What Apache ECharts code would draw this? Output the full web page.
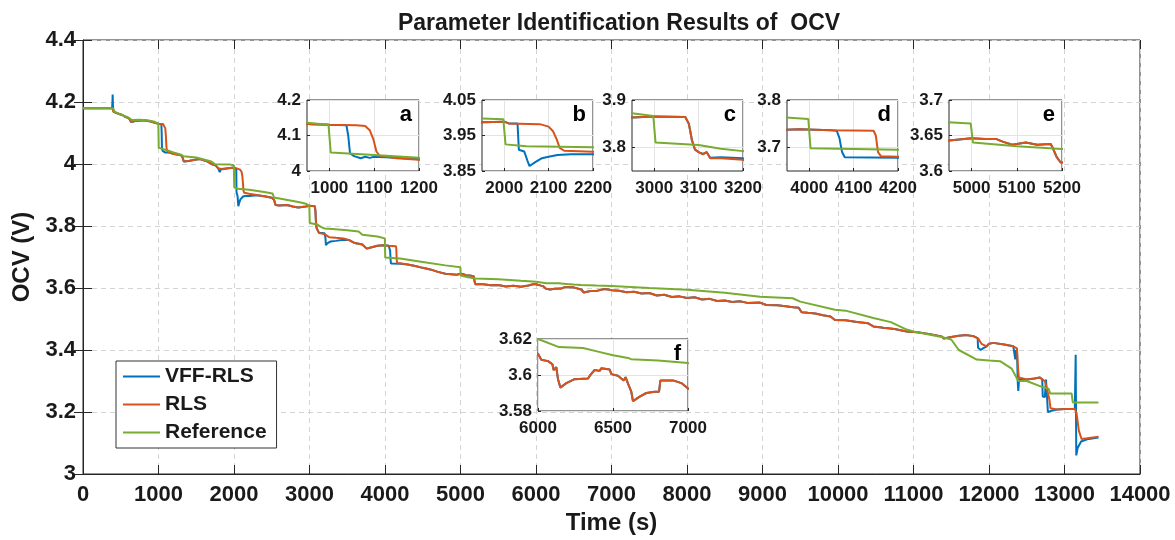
<!DOCTYPE html>
<html>
<head>
<meta charset="utf-8">
<title>Parameter Identification Results of OCV</title>
<script src="https://cdn.jsdelivr.net/npm/echarts@6/dist/echarts.min.js"></script>
<style>
  html, body { margin: 0; padding: 0; background: #fff; }
  #chart { width: 1175px; height: 540px; }
</style>
</head>
<body>
<div id="chart"></div>
<script>
// time (s) / OCV (V) pairs
var vffRls = [
  [0,4.18],[385,4.18],[390,4.2],[393,4.224],[397,4.185],[405,4.168],[470,4.162],[520,4.158],[560,4.152],
  [610,4.147],[640,4.135],[700,4.139],[800,4.141],[900,4.137],[960,4.132],[1000,4.13],[1038,4.129],
  [1042,4.1],[1046,4.05],[1055,4.042],[1070,4.036],[1080,4.04],[1090,4.037],[1100,4.04],[1150,4.037],
  [1200,4.033],[1300,4.028],[1320,4.02],[1335,4.008],[1400,4.01],[1480,4.014],[1550,4.016],[1650,4.008],
  [1720,3.998],[1760,3.995],[1790,3.986],[1805,3.986],[1812,3.974],[1830,3.984],[1850,3.983],[1950,3.987],
  [2000,3.989],[2010,3.984],[2030,3.984],[2033,3.91],[2045,3.905],[2048,3.895],[2052,3.88],[2057,3.864],
  [2070,3.875],[2085,3.886],[2100,3.89],[2120,3.895],[2150,3.897],[2200,3.897],[2300,3.899],[2420,3.895],
  [2500,3.891],[2530,3.885],[2550,3.868],[2600,3.866],[2700,3.868],[2780,3.863],[2850,3.86],[2950,3.863],
  [3000,3.865],[3070,3.864],[3078,3.85],[3085,3.815],[3092,3.795],[3100,3.79],[3110,3.786],[3118,3.79],
  [3126,3.778],[3150,3.779],[3200,3.777],[3212,3.76],[3217,3.738],[3240,3.745],[3280,3.75],[3350,3.752],
  [3450,3.756],[3520,3.755],[3600,3.745],[3700,3.74],[3757,3.727],[3800,3.73],[3900,3.736],[3977,3.738],
  [4050,3.736],[4062,3.735],[4068,3.72],[4074,3.69],[4080,3.679],[4200,3.678],[4300,3.676],[4400,3.671],
  [4500,3.665],[4600,3.66],[4700,3.652],[4800,3.646],[4950,3.643],[5000,3.646],[5030,3.645],[5055,3.645],
  [5070,3.641],[5090,3.637],[5120,3.64],[5145,3.637],[5175,3.638],[5180,3.632],[5188,3.62],[5197,3.612],
  [5200,3.611],[5300,3.612],[5400,3.609],[5500,3.61],[5600,3.605],[5700,3.607],[5800,3.604],[5900,3.608],
  [5960,3.612],[6000,3.6118],[6022,3.6085],[6067,3.6077],[6096,3.606],[6104,3.6028],[6122,3.6043],
  [6133,3.5978],[6149,3.593],[6189,3.5955],[6244,3.5977],[6333,3.598],[6349,3.6],[6378,3.6028],
  [6411,3.6023],[6422,3.6037],[6478,3.603],[6489,3.6005],[6533,3.5996],[6571,3.597],[6584,3.5988],
  [6600,3.5952],[6622,3.5907],[6633,3.5855],[6678,3.588],[6722,3.59],[6778,3.5907],[6807,3.5907],
  [6816,3.597],[6900,3.597],[6956,3.5955],[6978,3.594],[7000,3.5925],[7100,3.591],[7200,3.586],
  [7300,3.588],[7400,3.582],[7500,3.584],[7600,3.576],[7700,3.578],[7800,3.571],[7900,3.573],[8000,3.568],
  [8100,3.57],[8200,3.563],[8300,3.565],[8400,3.558],[8500,3.56],[8600,3.555],[8700,3.557],[8800,3.552],
  [8967,3.553],[9050,3.545],[9200,3.544],[9408,3.538],[9480,3.536],[9518,3.522],[9600,3.52],[9700,3.518],
  [9800,3.512],[9900,3.508],[9960,3.497],[10100,3.496],[10250,3.49],[10400,3.486],[10468,3.476],
  [10600,3.472],[10750,3.468],[10909,3.46],[11050,3.457],[11200,3.452],[11372,3.444],[11400,3.437],
  [11500,3.442],[11600,3.446],[11704,3.448],[11800,3.444],[11850,3.438],[11855,3.407],[11870,3.41],
  [11890,3.4],[11920,3.405],[11969,3.412],[12000,3.42],[12057,3.423],[12200,3.418],[12322,3.412],
  [12340,3.408],[12348,3.37],[12356,3.4],[12372,3.39],[12380,3.3],[12388,3.268],[12398,3.305],
  [12420,3.311],[12500,3.305],[12600,3.308],[12675,3.311],[12705,3.305],[12712,3.25],[12740,3.248],
  [12755,3.305],[12765,3.305],[12780,3.2],[12790,3.194],[12830,3.204],[12900,3.208],[13000,3.21],
  [13137,3.21],[13148,3.385],[13152,3.385],[13156,3.06],[13175,3.085],[13220,3.105],[13300,3.112],
  [13450,3.118]
];

var rls = [
  [0,4.18],[390,4.18],[405,4.168],[470,4.162],[520,4.158],[560,4.152],[610,4.147],[640,4.135],[700,4.139],
  [800,4.141],[900,4.137],[960,4.132],[1000,4.13],[1060,4.129],[1080,4.127],[1090,4.115],[1098,4.09],
  [1105,4.055],[1112,4.043],[1150,4.036],[1200,4.032],[1300,4.028],[1320,4.02],[1335,4.008],[1400,4.01],
  [1480,4.014],[1550,4.016],[1650,4.008],[1720,3.998],[1760,3.995],[1790,3.986],[1850,3.983],[1950,3.987],
  [2000,3.989],[2010,3.984],[2080,3.982],[2100,3.975],[2110,3.962],[2118,3.94],[2125,3.915],[2135,3.907],
  [2200,3.904],[2300,3.9],[2420,3.895],[2500,3.891],[2530,3.885],[2550,3.868],[2600,3.866],[2700,3.868],
  [2780,3.863],[2850,3.86],[2950,3.863],[3000,3.865],[3070,3.864],[3078,3.85],[3085,3.815],[3092,3.795],
  [3100,3.79],[3110,3.785],[3118,3.79],[3126,3.777],[3150,3.777],[3200,3.774],[3260,3.764],[3350,3.762],
  [3450,3.76],[3520,3.755],[3600,3.745],[3700,3.74],[3757,3.727],[3800,3.73],[3900,3.736],[3977,3.738],
  [4050,3.736],[4145,3.735],[4150,3.725],[4155,3.69],[4162,3.681],[4200,3.68],[4300,3.676],[4400,3.671],
  [4500,3.665],[4600,3.66],[4700,3.652],[4800,3.646],[4950,3.643],[5000,3.646],[5030,3.645],[5055,3.645],
  [5070,3.641],[5090,3.637],[5120,3.64],[5145,3.637],[5175,3.638],[5180,3.632],[5188,3.62],[5197,3.612],
  [5200,3.611],[5300,3.612],[5400,3.609],[5500,3.61],[5600,3.605],[5700,3.607],[5800,3.604],[5900,3.608],
  [5960,3.612],[6000,3.6118],[6022,3.6085],[6067,3.6077],[6096,3.606],[6104,3.6028],[6122,3.6043],
  [6133,3.5978],[6149,3.593],[6189,3.5955],[6244,3.5977],[6333,3.598],[6349,3.6],[6378,3.6028],
  [6411,3.6023],[6422,3.6037],[6478,3.603],[6489,3.6005],[6533,3.5996],[6571,3.597],[6584,3.5988],
  [6600,3.5952],[6622,3.5907],[6633,3.5855],[6678,3.588],[6722,3.59],[6778,3.5907],[6807,3.5907],
  [6816,3.597],[6900,3.597],[6956,3.5955],[6978,3.594],[7000,3.5925],[7100,3.591],[7200,3.586],
  [7300,3.588],[7400,3.582],[7500,3.584],[7600,3.576],[7700,3.578],[7800,3.571],[7900,3.573],[8000,3.568],
  [8100,3.57],[8200,3.563],[8300,3.565],[8400,3.558],[8500,3.56],[8600,3.555],[8700,3.557],[8800,3.552],
  [8967,3.553],[9050,3.545],[9200,3.544],[9408,3.538],[9480,3.536],[9518,3.522],[9600,3.52],[9700,3.518],
  [9800,3.512],[9900,3.508],[9960,3.497],[10100,3.496],[10250,3.49],[10400,3.486],[10468,3.476],
  [10600,3.472],[10750,3.468],[10909,3.46],[11050,3.457],[11200,3.452],[11372,3.444],[11400,3.437],
  [11500,3.442],[11600,3.446],[11704,3.448],[11800,3.444],[11858,3.437],[11900,3.42],[11969,3.412],
  [12000,3.42],[12057,3.423],[12200,3.418],[12322,3.412],[12370,3.405],[12385,3.34],[12395,3.311],
  [12500,3.305],[12600,3.308],[12675,3.311],[12740,3.3],[12763,3.279],[12800,3.24],[12815,3.212],
  [12900,3.208],[13000,3.21],[13137,3.21],[13160,3.195],[13190,3.14],[13226,3.113],[13300,3.115],
  [13450,3.12]
];

var reference = [
  [0,4.18],[395,4.18],[420,4.168],[500,4.16],[600,4.15],[650,4.142],[750,4.143],[850,4.141],[950,4.136],
  [998,4.13],[1003,4.052],[1100,4.045],[1200,4.037],[1300,4.03],[1330,4.025],[1500,4.021],[1700,4.008],
  [1750,3.999],[1950,3.998],[1998,3.996],[2003,3.925],[2050,3.92],[2200,3.917],[2400,3.91],[2510,3.905],
  [2530,3.892],[2800,3.88],[2900,3.875],[2950,3.872],[2998,3.866],[3003,3.81],[3100,3.805],[3150,3.797],
  [3200,3.792],[3300,3.79],[3500,3.786],[3650,3.782],[3700,3.772],[3900,3.766],[3998,3.76],[4003,3.698],
  [4200,3.695],[4500,3.684],[4800,3.673],[4998,3.667],[5003,3.64],[5100,3.635],[5200,3.631],[5500,3.628],
  [5800,3.623],[6000,3.62],[6140,3.6155],[6300,3.615],[6400,3.613],[6500,3.611],[6600,3.6095],
  [6620,3.6088],[6800,3.608],[7000,3.6066],[7500,3.6],[8000,3.594],[8500,3.585],[8967,3.572],[9400,3.567],
  [9500,3.556],[9960,3.53],[10100,3.527],[10468,3.503],[10700,3.49],[10909,3.466],[11000,3.46],
  [11372,3.442],[11500,3.434],[11600,3.4],[11837,3.369],[12000,3.366],[12146,3.364],[12300,3.34],
  [12388,3.3],[12500,3.3],[12700,3.281],[12790,3.275],[12810,3.26],[13094,3.26],[13110,3.231],[13450,3.231]
];

// zoomed windows a-f: axis ranges and tick labels
var insetNames = ['a', 'b', 'c', 'd', 'e', 'f'];
var insetXRange = [[950, 1200], [1950, 2200], [2950, 3200], [3950, 4200], [4950, 5200], [6000, 7000]];
var insetYRange = [[4, 4.2], [3.85, 4.05], [3.75, 3.9], [3.65, 3.8], [3.6, 3.7], [3.58, 3.62]];
var insetXTicks = [[1000, 1100, 1200], [2000, 2100, 2200], [3000, 3100, 3200], [4000, 4100, 4200], [5000, 5100, 5200], [6000, 6500, 7000]];
var insetYTicks = [[4, 4.1, 4.2], [3.85, 3.95, 4.05], [3.8, 3.9], [3.7, 3.8], [3.6, 3.65, 3.7], [3.58, 3.6, 3.62]];

// pixel boxes of the insets [left, top, width, height]
var insetBox = [
  [307, 100, 112, 71],
  [482, 100, 111, 71],
  [632, 100, 111, 71],
  [787, 100, 111, 71],
  [949, 100, 113, 71],
  [538, 339, 150, 72]
];

var FONT = '"Liberation Sans", Arial, Helvetica, sans-serif';
var INK = '#1a1a1a';
var COLORS = ['#0072BD', '#D95319', '#77AC30'];
var NAMES = ['VFF-RLS', 'RLS', 'Reference'];
var SERIES_DATA = [vffRls, rls, reference];

var chart = echarts.init(document.getElementById('chart'), null, { renderer: 'canvas' });

var grids = [{ left: 83, right: 35, top: 40, bottom: 63, show: true, borderColor: '#262626', borderWidth: 1, backgroundColor: '#fff' }];
var xAxes = [];
var yAxes = [];
var series = [];
var graphics = [];

function plainNum(v) {
  return String(+v.toFixed(4));
}

// main axes
xAxes.push({
  type: 'value', gridIndex: 0, min: 0, max: 14000, interval: 1000,
  name: 'Time (s)', nameLocation: 'middle', nameGap: 37,
  nameTextStyle: { fontFamily: FONT, fontWeight: 'bold', fontSize: 24, color: INK },
  axisLine: { show: true, onZero: false, lineStyle: { color: '#262626', width: 1 } },
  axisTick: { show: true, inside: true, length: 9, lineStyle: { color: '#262626' } },
  axisLabel: { fontFamily: FONT, fontWeight: 'bold', fontSize: 22, color: INK, margin: 10, formatter: plainNum },
  splitLine: { show: true, lineStyle: { color: '#d4d4d4', type: [5, 4], width: 1 } }
});
xAxes.push({
  type: 'value', gridIndex: 0, position: 'top', min: 0, max: 14000, interval: 1000,
  axisLine: { show: false }, axisLabel: { show: false }, splitLine: { show: false },
  axisTick: { show: true, inside: true, length: 9, lineStyle: { color: '#262626' } }
});
yAxes.push({
  type: 'value', gridIndex: 0, min: 3, max: 4.4, interval: 0.2,
  name: 'OCV (V)', nameLocation: 'middle', nameGap: 48, nameRotate: 90,
  nameTextStyle: { fontFamily: FONT, fontWeight: 'bold', fontSize: 24, color: INK },
  axisLine: { show: true, onZero: false, lineStyle: { color: '#262626', width: 1 } },
  axisTick: { show: true, inside: true, length: 9, lineStyle: { color: '#262626' } },
  axisLabel: { fontFamily: FONT, fontWeight: 'bold', fontSize: 22, color: INK, margin: 7, formatter: plainNum },
  splitLine: { show: true, lineStyle: { color: '#d4d4d4', type: [5, 4], width: 1 } }
});
yAxes.push({
  type: 'value', gridIndex: 0, position: 'right', min: 3, max: 4.4, interval: 0.2,
  axisLine: { show: false }, axisLabel: { show: false }, splitLine: { show: false },
  axisTick: { show: true, inside: true, length: 9, lineStyle: { color: '#262626' } }
});

for (var s = 0; s < 3; s++) {
  series.push({
    name: NAMES[s], type: 'line', xAxisIndex: 0, yAxisIndex: 0,
    data: SERIES_DATA[s], showSymbol: false, symbol: 'none', z: 2,
    lineStyle: { color: COLORS[s], width: 2 }, itemStyle: { color: COLORS[s] }
  });
}

// insets
for (var i = 0; i < insetNames.length; i++) {
  var box = insetBox[i];
  var gi = i + 1;
  grids.push({
    left: box[0], top: box[1], width: box[2], height: box[3], z: 5,
    show: true, backgroundColor: '#fff', borderColor: '#262626', borderWidth: 1
  });
  xAxes.push({
    type: 'value', gridIndex: gi, min: insetXRange[i][0], max: insetXRange[i][1], z: 6,
    axisLine: { show: false },
    axisTick: { show: true, inside: true, length: 3, customValues: insetXTicks[i], lineStyle: { color: '#262626' } },
    axisLabel: { customValues: insetXTicks[i], fontFamily: FONT, fontWeight: 'bold', fontSize: 17, color: INK, margin: 9, formatter: plainNum },
    splitLine: { show: true, lineStyle: { color: '#e3e3e3', width: 1 } }
  });
  yAxes.push({
    type: 'value', gridIndex: gi, min: insetYRange[i][0], max: insetYRange[i][1], z: 6,
    axisLine: { show: false },
    axisTick: { show: true, inside: true, length: 3, customValues: insetYTicks[i], lineStyle: { color: '#262626' } },
    axisLabel: { customValues: insetYTicks[i], fontFamily: FONT, fontWeight: 'bold', fontSize: 17, color: INK, margin: 6, formatter: plainNum },
    splitLine: { show: true, lineStyle: { color: '#e3e3e3', width: 1 } }
  });
  for (var k = 0; k < 3; k++) {
    series.push({
      name: NAMES[k], type: 'line', xAxisIndex: gi + 1, yAxisIndex: gi + 1,
      data: SERIES_DATA[k], showSymbol: false, symbol: 'none', clip: true, z: 7,
      lineStyle: { color: COLORS[k], width: 2 }, itemStyle: { color: COLORS[k] }
    });
  }
  graphics.push({
    type: 'text', right: 1175 - (box[0] + box[2]) + 7, top: box[1] + 4, z: 20,
    style: { text: insetNames[i], fontFamily: FONT, fontWeight: 'bold', fontSize: 22, fill: '#000' }
  });
}

var option = {
  animation: false,
  backgroundColor: '#fff',
  title: {
    text: 'Parameter Identification Results of  OCV',
    left: 614, top: 7, textAlign: 'center',
    textStyle: { fontFamily: FONT, fontWeight: 'bold', fontSize: 23, color: INK }
  },
  legend: {
    data: NAMES.map(function (n) { return { name: n, icon: 'rect' }; }),
    orient: 'vertical', left: 116, top: 361,
    itemWidth: 37, itemHeight: 2, itemGap: 7,
    padding: [5, 10, 5, 7],
    backgroundColor: '#fff', borderColor: '#333', borderWidth: 1,
    textStyle: { fontFamily: FONT, fontWeight: 'bold', fontSize: 21, color: INK },
    z: 20
  },
  grid: grids,
  xAxis: xAxes,
  yAxis: yAxes,
  series: series,
  graphic: graphics
};

chart.setOption(option);
</script>
</body>
</html>
